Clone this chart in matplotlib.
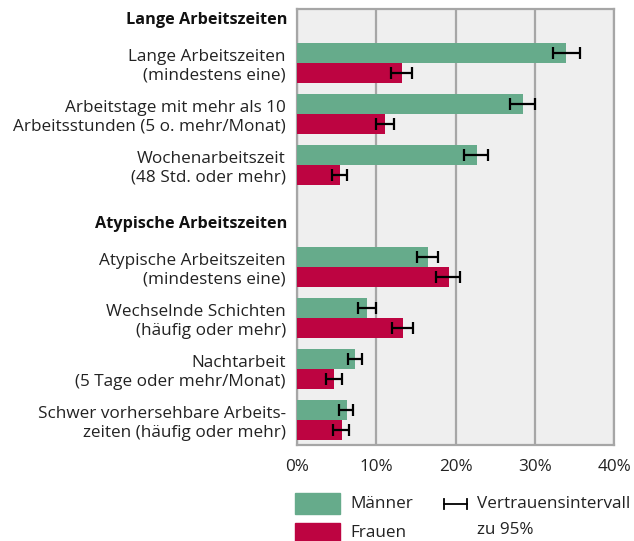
import matplotlib
matplotlib.use("Agg")
import matplotlib.pyplot as plt
from matplotlib.patches import Rectangle
from matplotlib.lines import Line2D

plt.rcParams['font.family'] = ['Open Sans', 'DejaVu Sans']

groups = ["Lange Arbeitszeiten", "Atypische Arbeitszeiten"]
categories = [
    "Lange Arbeitszeiten\n(mindestens eine)",
    "Arbeitstage mit mehr als 10\nArbeitsstunden (5 o. mehr/Monat)",
    "Wochenarbeitszeit\n(48 Std. oder mehr)",
    "Atypische Arbeitszeiten\n(mindestens eine)",
    "Wechselnde Schichten\n(häufig oder mehr)",
    "Nachtarbeit\n(5 Tage oder mehr/Monat)",
    "Schwer vorhersehbare Arbeits-\nzeiten (häufig oder mehr)",
]
cat_group = [0, 0, 0, 1, 1, 1, 1]
maenner = [34.0, 28.5, 22.7, 16.5, 8.8, 7.3, 6.3]
maenner_lo = [32.3, 26.9, 21.1, 15.1, 7.7, 6.4, 5.3]
maenner_hi = [35.7, 30.0, 24.1, 17.8, 10.0, 8.2, 7.1]
frauen = [13.2, 11.1, 5.4, 19.2, 13.4, 4.7, 5.7]
frauen_lo = [11.9, 10.0, 4.4, 17.6, 12.0, 3.7, 4.6]
frauen_hi = [14.5, 12.2, 6.3, 20.6, 14.7, 5.7, 6.6]
xticks = [0, 10, 20, 30, 40]
xticklabels = ["0%", "10%", "20%", "30%", "40%"]

green = "#66ab8b"
red = "#bd0441"
gridc = "#a6a6a6"
FS = 12.3

fig = plt.figure(figsize=(6.34, 5.41), dpi=100)
ax = fig.add_axes([297/634, 1-445/541, 317/634, 436/541])
ax.set_facecolor("#efefef")

ypos = []
header_pos = []
slot = 0
prev = None
for g in cat_group:
    if g != prev:
        header_pos.append(slot)
        slot += 1
        prev = g
    ypos.append(slot)
    slot += 1

h = 0.385
ym = [y - h/2 for y in ypos]
yf = [y + h/2 for y in ypos]
ax.barh(ym, maenner, height=h, color=green, zorder=3)
ax.barh(yf, frauen, height=h, color=red, zorder=3)
ekw = dict(fmt='none', ecolor='black', elinewidth=1.6, capsize=4, capthick=1.6, zorder=4)
ax.errorbar(maenner, ym, xerr=[[m - l for m, l in zip(maenner, maenner_lo)],
                               [u - m for m, u in zip(maenner, maenner_hi)]], **ekw)
ax.errorbar(frauen, yf, xerr=[[m - l for m, l in zip(frauen, frauen_lo)],
                              [u - m for m, u in zip(frauen, frauen_hi)]], **ekw)

ax.set_xlim(0, 40)
ax.set_ylim((445-12)/51, (9-12)/51)
ax.set_xticks(xticks)
ax.set_xticklabels(xticklabels, fontsize=FS, color="#222222")
ax.set_yticks(ypos)
ax.set_yticklabels(categories, fontsize=FS, color="#222222", ha='right', linespacing=1.22)
ax.tick_params(axis='x', length=0, pad=10)
ax.tick_params(axis='y', length=0, pad=8)
ax.xaxis.grid(True, color=gridc, linewidth=1.6, zorder=0)
ax.set_axisbelow(True)
for s in ax.spines.values():
    s.set_color(gridc)
    s.set_linewidth(1.6)

for gi, hp in enumerate(header_pos):
    ax.text(-10/317, hp + 0.16, groups[gi], transform=ax.get_yaxis_transform(),
            ha='right', va='center', fontsize=11.7, fontweight='bold', color="#111111")

W, H = 634, 541
def fx(x): return x / W
def fy(y): return 1 - y / H
fig.patches.append(Rectangle((fx(295), fy(514)), 45/W, 21/H, transform=fig.transFigure,
                             color=green, zorder=5))
fig.patches.append(Rectangle((fx(295), fy(543)), 45/W, 20/H, transform=fig.transFigure,
                             color=red, zorder=5))
fig.text(fx(350), fy(504), "Männer", fontsize=FS, va='center', ha='left', color="#222222")
fig.text(fx(350), fy(533), "Frauen", fontsize=FS, va='center', ha='left', color="#222222")
fig.lines.append(Line2D([fx(444), fx(467)], [fy(504), fy(504)], transform=fig.transFigure,
                        color='black', linewidth=1.3))
for xx in (444, 467):
    fig.lines.append(Line2D([fx(xx), fx(xx)], [fy(499), fy(509)], transform=fig.transFigure,
                            color='black', linewidth=1.3))
fig.text(fx(477), fy(504), "Vertrauensintervall", fontsize=FS, va='center', ha='left', color="#222222")
fig.text(fx(477), fy(530), "zu 95%", fontsize=FS, va='center', ha='left', color="#222222")

fig.savefig("out.png", dpi=100)
